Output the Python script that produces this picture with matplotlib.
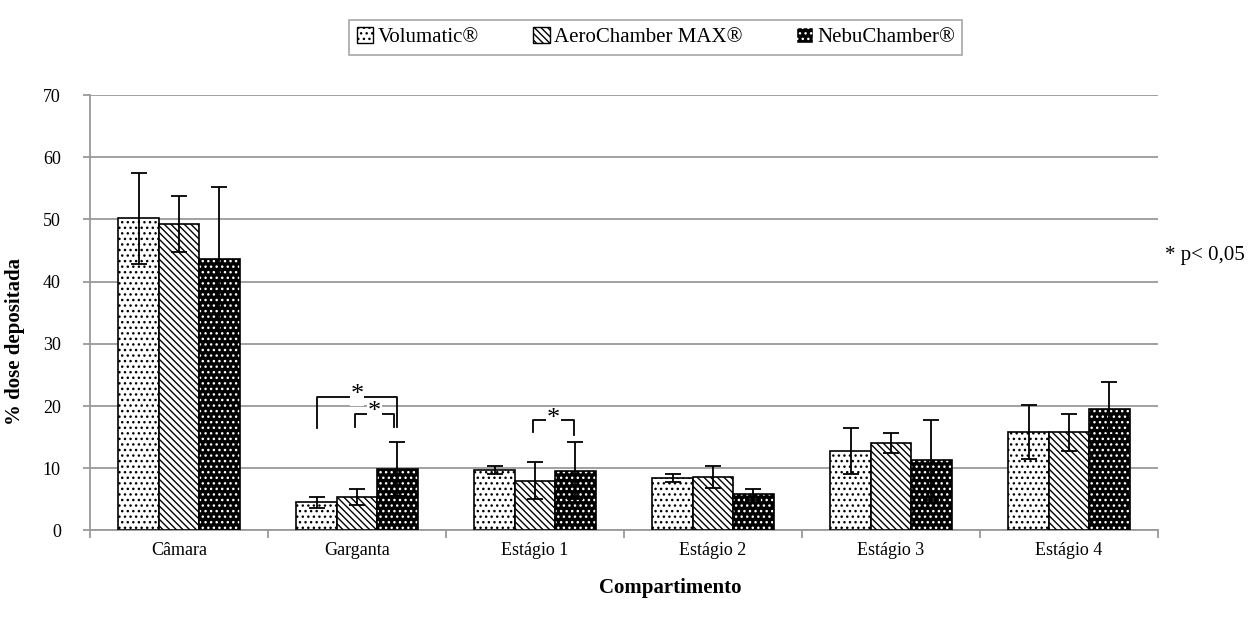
import matplotlib.pyplot as plt
import matplotlib.patches as mpatches
import numpy as np

plt.rcParams['font.family'] = ['Liberation Serif', 'DejaVu Serif']
plt.rcParams['hatch.linewidth'] = 1.0

categories = ["Câmara", "Garganta", "Estágio 1", "Estágio 2", "Estágio 3", "Estágio 4"]
series_names = ["Volumatic®", "AeroChamber MAX®", "NebuChamber®"]

volumatic = [50.2, 4.5, 9.7, 8.4, 12.7, 15.8]
volumatic_sd = [7.3, 0.9, 0.6, 0.6, 3.7, 4.3]
aerochamber = [49.3, 5.4, 8.0, 8.6, 14.0, 15.8]
aerochamber_sd = [4.5, 1.3, 3.0, 1.7, 1.6, 3.0]
nebuchamber = [43.6, 9.9, 9.6, 5.8, 11.3, 19.6]
nebuchamber_sd = [11.6, 4.4, 4.6, 0.9, 6.4, 4.3]

fig = plt.figure(figsize=(12.59, 6.19), dpi=100)
ax = fig.add_axes([0.0715, 0.143, 0.8483, 0.7035])

x = np.arange(len(categories))
w = 0.227
grid_col = "#9a9a9a"
dots = "..."
lines = "\\\\\\\\\\"

# Volumatic: white with black dots
ax.bar(x - w, volumatic, w, color="white", edgecolor="black", hatch=dots, linewidth=1.2, zorder=3)
# AeroChamber: white with diagonal lines
ax.bar(x, aerochamber, w, color="white", edgecolor="black", hatch=lines, linewidth=1.2, zorder=3)
# NebuChamber: black with white dots
ax.bar(x + w, nebuchamber, w, color="black", edgecolor="white", hatch=dots, linewidth=0, zorder=3)
ax.bar(x + w, nebuchamber, w, fill=False, edgecolor="black", linewidth=1.2, zorder=3)

for off, vals, sd in [(-w, volumatic, volumatic_sd), (0, aerochamber, aerochamber_sd), (w, nebuchamber, nebuchamber_sd)]:
    ax.errorbar(x + off, vals, yerr=sd, fmt="none", ecolor="black", elinewidth=1.3,
                capsize=6, capthick=1.3, zorder=4)

# significance brackets
def bracket(x1, x2, y_top, y1, y2):
    ax.plot([x1, x1, x2, x2], [y1, y_top, y_top, y2], color="black", lw=1.3, zorder=5)
    ax.text((x1 + x2) / 2, y_top + 0.3, "*", ha="center", va="center", fontsize=19, zorder=6,
            bbox=dict(facecolor="white", edgecolor="none", pad=0.3))

bracket(1 - w, 1 + w, 21.5, 16.5, 16.7)
bracket(1 - 0.01, 1 + w - 0.02, 18.8, 16.7, 16.7)
bracket(2 - 0.01, 2 + w - 0.01, 17.7, 15.8, 15.4)

ax.set_ylim(0, 70)
ax.set_xlim(-0.5, len(categories) - 0.5)
ax.set_yticks(range(0, 71, 10))
ax.yaxis.grid(True, color=grid_col, lw=1.3, zorder=0)
ax.set_axisbelow(True)

ax.set_xticks(x)
ax.set_xticklabels(categories, fontsize=13)
ax.tick_params(axis="x", length=0, pad=8)
ax.set_xticks(np.arange(-0.5, len(categories), 1), minor=True)
ax.tick_params(axis="x", which="minor", length=6, color=grid_col, width=1.3)
ax.tick_params(axis="y", length=5, color=grid_col, width=1.3, labelsize=13, pad=16)

for s in ["top", "right"]:
    ax.spines[s].set_visible(False)
ax.spines["left"].set_color(grid_col)
ax.spines["bottom"].set_color(grid_col)
ax.spines["left"].set_linewidth(1.3)
ax.spines["bottom"].set_linewidth(1.3)

ax.set_ylabel("% dose depositada", fontsize=15, fontweight="bold")
ax.yaxis.set_label_coords(-0.061, 0.435)
ax.set_xlabel("Compartimento", fontsize=15, fontweight="bold")
ax.xaxis.set_label_coords(0.543, -0.109)

fig.text(0.925, 0.587, "* p< 0,05", fontsize=15, ha="left", va="center")

handles = [
    mpatches.Patch(facecolor="white", edgecolor="black", hatch=dots, label=series_names[0]),
    mpatches.Patch(facecolor="white", edgecolor="black", hatch=lines, label=series_names[1]),
    mpatches.Patch(facecolor="black", edgecolor="white", hatch=dots, label=series_names[2]),
]
leg = fig.legend(handles=handles, loc="center", bbox_to_anchor=(0.521, 0.94), ncol=3,
                 fontsize=15, frameon=True, fancybox=False, handlelength=0.8, handleheight=0.8,
                 handletextpad=0.2, columnspacing=2.6, borderpad=0.35)
leg.get_frame().set_edgecolor(grid_col)
leg.get_frame().set_linewidth(1.3)

fig.savefig("out.png", dpi=100)
